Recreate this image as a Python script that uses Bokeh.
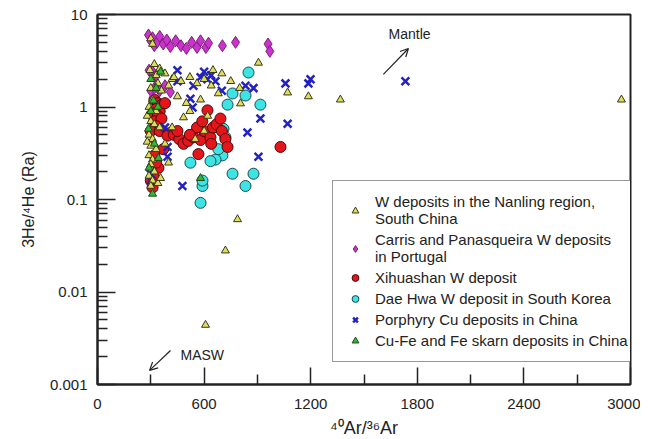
from bokeh.plotting import figure
from bokeh.models import (Legend, LegendItem, FixedTicker, CustomJSTickFormatter,
                          Arrow, OpenHead, Label)
from bokeh.embed import file_html
from bokeh.resources import INLINE

# ---------------- data ----------------
nanling_x = [300, 310, 320, 295, 330, 350, 305, 380, 420, 340, 300, 360, 400, 450, 500,
             310, 290, 330, 280, 300, 320, 350, 290, 310, 280, 300, 330, 290, 310, 300,
             320, 290, 310, 300, 340, 355, 430, 470, 520, 560, 600, 640, 680, 580, 520,
             620, 484, 805, 906, 1070, 1187, 1367, 2949, 788, 720, 608, 600, 550, 400,
             380, 420, 700, 750, 800, 650]
nanling_y = [5.5, 4.8, 2.9, 2.5, 2.2, 2.6, 2.0, 2.3, 2.0, 1.8, 1.6, 1.5, 1.7, 1.3, 1.1,
             1.2, 1.0, 0.9, 0.8, 0.7, 0.65, 0.6, 0.5, 0.45, 0.42, 0.38, 0.35, 0.3, 0.27, 0.24,
             0.2, 0.18, 0.16, 0.14, 0.15, 0.17, 2.1, 1.9, 2.1, 1.8, 2.0, 1.7, 1.4, 1.2, 0.9,
             0.8, 0.77, 1.09, 3.0, 1.43, 1.3, 1.2, 1.2, 0.061, 0.028, 0.0044, 0.55, 0.45, 0.25,
             0.4, 0.6, 2.3, 1.9, 1.6, 2.5]

carris_x = [287, 300, 310, 320, 335, 350, 370, 390, 410, 440, 470, 500, 530, 560, 580,
            610, 625, 703, 777, 960, 970, 290, 310, 330, 300, 320, 350, 380, 410]
carris_y = [6.0, 5.2, 5.6, 4.6, 5.0, 5.8, 4.8, 5.3, 4.5, 5.2, 4.6, 4.3, 5.0, 4.4, 5.2,
            4.4, 4.9, 4.6, 5.0, 4.8, 4.0, 2.5, 2.4, 2.2, 1.5, 1.6, 1.5, 1.7, 1.45]

xihua_x = [320, 340, 360, 330, 350, 380, 310, 340, 320, 360, 330, 300, 350, 400, 394,
           430, 460, 484, 510, 540, 580, 600, 619, 636, 650, 670, 692, 700, 720, 732,
           640, 560, 590, 520, 568, 450, 1030, 370, 343, 330, 315, 310, 300, 320]
xihua_y = [1.2, 1.1, 1.05, 0.95, 0.9, 1.1, 0.85, 0.8, 0.7, 0.75, 0.62, 0.55, 0.55, 0.52, 0.49,
           0.5, 0.45, 0.40, 0.43, 0.47, 0.44, 0.55, 0.92, 0.47, 0.60, 0.65, 0.75, 0.55, 0.45, 0.37,
           0.40, 0.60, 0.70, 0.5, 0.31, 0.55, 0.37, 0.35, 0.22, 0.25, 0.18, 0.135, 0.16, 0.3]

daehwa_x = [850, 833, 732, 917, 709, 720, 703, 664, 636, 523, 760, 878, 833, 591, 580,
            591, 760, 680]
daehwa_y = [2.36, 1.33, 1.06, 1.06, 0.58, 0.47, 0.30, 0.27, 0.26, 0.25, 0.19, 0.19, 0.14, 0.14,
            0.092, 0.16, 1.4, 0.35]

porph_x = [580, 619, 540, 664, 833, 878, 1058, 1187, 450, 523, 535, 917, 1070, 844, 394,
           394, 906, 478, 298, 298, 450, 1199, 1733, 600, 640, 700, 380]
porph_y = [2.1, 2.0, 1.7, 1.9, 1.7, 1.6, 1.8, 1.8, 1.9, 1.23, 0.99, 0.75, 0.66, 0.53, 0.37,
           0.29, 0.29, 0.14, 0.19, 0.16, 2.5, 2.0, 1.9, 2.4, 2.2, 1.5, 0.6]

cufe_x = [310, 343, 315, 355, 580, 287, 300, 330, 300, 320, 290, 340]
cufe_y = [0.115, 0.28, 1.17, 2.4, 0.17, 0.58, 0.9, 1.6, 2.0, 0.4, 0.22, 1.0]

x_ticks = [0, 600, 1200, 1800, 2400, 3000]
x_minor = [300, 900, 1500, 2100, 2700]
y_ticks = [0.001, 0.01, 0.1, 1, 10]

labels = ["W deposits in the Nanling region,\nSouth China",
          "Carris and Panasqueira W deposits\nin Portugal",
          "Xihuashan W deposit",
          "Dae Hwa W deposit in South Korea",
          "Porphyry Cu deposits in China",
          "Cu-Fe and Fe skarn deposits in China"]

# annotations
mantle_arrow = (1609, 2.25, 1750, 4.29)
mantle_text = (1638, 6.2)
masw_arrow = (411, 0.00233, 293, 0.00142)
masw_text = (467, 0.0021)

FONT = "Liberation Sans"

p = figure(frame_width=533, frame_height=370, x_range=(0, 3000), y_range=(0.001, 10),
           y_axis_type="log", output_backend="svg", toolbar_location=None,
           min_border_left=97, min_border_right=10, min_border_top=14, min_border_bottom=54,
           background_fill_color="white", border_fill_color="white")
p.grid.visible = False
p.outline_line_color = "#222222"
p.outline_line_width = 2

for ax in (p.xaxis[0], p.yaxis[0]):
    ax.axis_line_color = "#222222"
    ax.axis_line_width = 2
    ax.major_tick_line_color = "#222222"
    ax.minor_tick_line_color = "#222222"
    ax.major_tick_line_width = 1.5
    ax.minor_tick_line_width = 1.5
    ax.major_tick_out = 0
    ax.minor_tick_out = 0
    ax.major_label_text_font = FONT
    ax.major_label_text_font_size = "15px"
    ax.major_label_text_color = "#222222"
    ax.axis_label_text_font = FONT
    ax.axis_label_text_font_size = "16px"
    ax.axis_label_text_font_style = "normal"
    ax.axis_label_text_color = "#222222"

p.xaxis.ticker = FixedTicker(ticks=x_ticks, minor_ticks=x_minor)
p.xaxis.major_tick_in = 17
p.xaxis.minor_tick_in = 10
p.xaxis.major_label_standoff = 14
p.xaxis.axis_label = "⁴⁰Ar/³⁶Ar"
p.xaxis.axis_label_text_font_size = "18px"
p.xaxis.axis_label_standoff = 6

y_minor = [k * 10.0 ** e for e in range(-3, 1) for k in range(2, 10)]
p.yaxis.ticker = FixedTicker(ticks=y_ticks, minor_ticks=y_minor)
p.yaxis.formatter = CustomJSTickFormatter(code="return String(Number(tick.toPrecision(3)));")
p.yaxis.major_tick_in = 18
p.yaxis.minor_tick_in = 10
p.yaxis.major_label_standoff = 10
p.yaxis.axis_label = "3He/⁴He (Ra)"
p.yaxis.axis_label_standoff = 10

r_dh = p.scatter(daehwa_x, daehwa_y, marker="circle", size=11, fill_color="#3ee4e4",
                 line_color="#1b4a4a", line_width=1)
r_xh = p.scatter(xihua_x, xihua_y, marker="circle", size=11, fill_color="#e4161c",
                 line_color="#4a0808", line_width=1)
r_pc = p.scatter(porph_x, porph_y, marker="x", size=11, line_color="#2121c4", line_width=2.5)
r_ca = p.scatter(carris_x, carris_y, marker="diamond", size=12, fill_color="#cc33cc",
                 line_color="#7a1f7a", line_width=1)
r_nl = p.scatter(nanling_x, nanling_y, marker="triangle", size=8, fill_color="#dedc62",
                 line_color="#3a3a14", line_width=1)
r_cf = p.scatter(cufe_x, cufe_y, marker="triangle", size=8, fill_color="#33b833",
                 line_color="#1e4a1e", line_width=1)

legend = Legend(items=[LegendItem(label=labels[0], renderers=[r_nl]),
                       LegendItem(label=labels[1], renderers=[r_ca]),
                       LegendItem(label=labels[2], renderers=[r_xh]),
                       LegendItem(label=labels[3], renderers=[r_dh]),
                       LegendItem(label=labels[4], renderers=[r_pc]),
                       LegendItem(label=labels[5], renderers=[r_cf])],
                location=(235, 22))
legend.label_text_font = FONT
legend.label_text_font_size = "15px"
legend.label_text_line_height = 1.1
legend.label_text_color = "#222222"
legend.label_height = 17
legend.glyph_height = 17
legend.glyph_width = 20
legend.label_standoff = 10
legend.spacing = 4
legend.padding = 12
legend.margin = 0
legend.border_line_color = "#333333"
legend.border_line_width = 1.5
legend.background_fill_alpha = 1
p.add_layout(legend)

p.add_layout(Arrow(x_start=mantle_arrow[0], y_start=mantle_arrow[1],
                   x_end=mantle_arrow[2], y_end=mantle_arrow[3],
                   line_color="#222222", line_width=1.2,
                   end=OpenHead(size=8, line_color="#222222", line_width=1.2)))
p.add_layout(Label(x=mantle_text[0], y=mantle_text[1], text="Mantle", text_font=FONT,
                   text_font_size="14px", text_color="#222222", text_baseline="middle"))
p.add_layout(Arrow(x_start=masw_arrow[0], y_start=masw_arrow[1],
                   x_end=masw_arrow[2], y_end=masw_arrow[3],
                   line_color="#222222", line_width=1.2,
                   end=OpenHead(size=8, line_color="#222222", line_width=1.2)))
p.add_layout(Label(x=masw_text[0], y=masw_text[1], text="MASW", text_font=FONT,
                   text_font_size="14px", text_color="#222222", text_baseline="middle"))

open("out.html", "w").write(file_html(p, INLINE))
